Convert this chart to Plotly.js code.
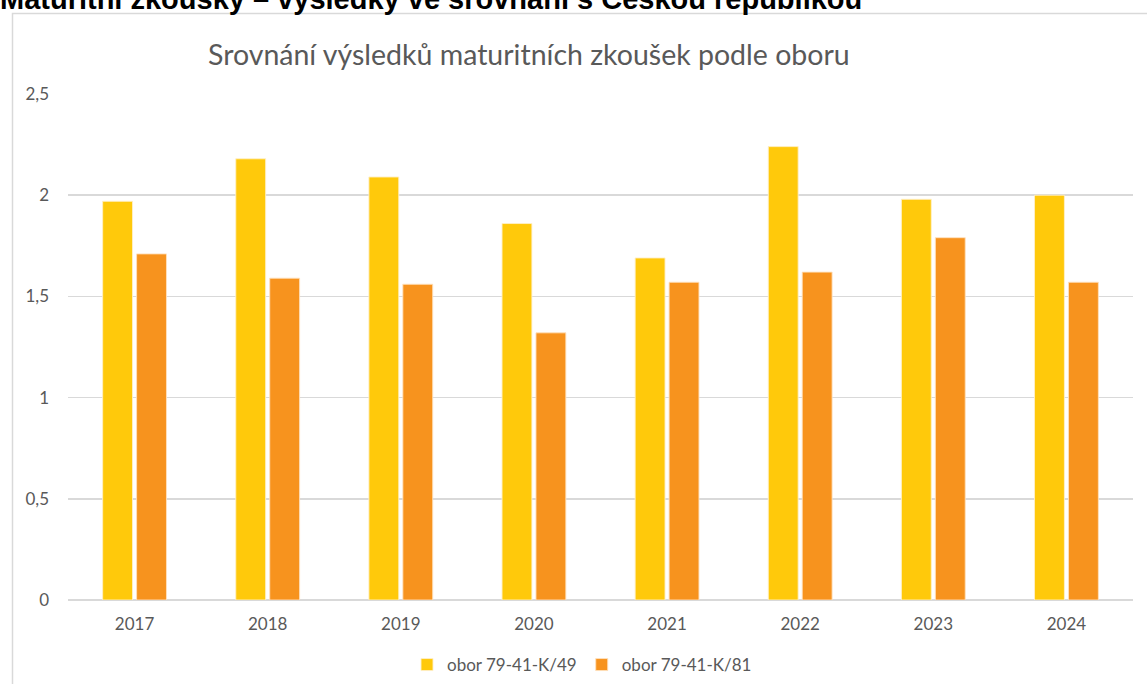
<!DOCTYPE html>
<html>
<head>
<meta charset="utf-8">
<script src="https://cdn.plot.ly/plotly-3.0.1.min.js"></script>
<style>html,body{margin:0;padding:0;background:#fff;overflow:hidden}</style>
</head>
<body>
<div id="chart" style="width:1147px;height:684px"></div>
<script>
// ---- data ----
const years = ['2017','2018','2019','2020','2021','2022','2023','2024'];
const obor49 = [1.97, 2.18, 2.09, 1.86, 1.69, 2.24, 1.98, 2.00];
const obor81 = [1.71, 1.59, 1.56, 1.32, 1.57, 1.62, 1.79, 1.57];
const seriesNames = ['obor 79-41-K/49', 'obor 79-41-K/81'];
const chartTitle = 'Srovnání výsledků maturitních zkoušek podle oboru';
const pageHeading = 'Maturitní zkoušky – výsledky ve srovnání s Českou republikou';

// ---- layout geometry (pixels) ----
const W = 1147, H = 684;
const M = {l: 68, r: 14, t: 94, b: 84, autoexpand: false};
const PW = W - M.l - M.r, PH = H - M.t - M.b;
const px = x => (x - M.l) / PW;
const py = y => (H - M.b - y) / PH;

const FONT = 'Lato, Calibri, "Open Sans", sans-serif';
const GRAY = '#595959';

const traces = [
  {type: 'bar', x: years, y: obor49, name: seriesNames[0],
   marker: {color: '#FFC90B', line: {color: 'rgba(255,240,200,0.9)', width: 1}}},
  {type: 'bar', x: years, y: obor81, name: seriesNames[1],
   marker: {color: '#F7931E', line: {color: 'rgba(255,225,190,0.9)', width: 1}}}
];

const layout = {
  width: W, height: H,
  margin: M,
  separators: ',.',
  paper_bgcolor: '#ffffff',
  plot_bgcolor: '#ffffff',
  font: {family: FONT, color: GRAY, size: 16},
  barmode: 'group',
  bargap: 0.49,
  bargroupgap: 0.12,
  showlegend: true,
  legend: {
    orientation: 'h', xref: 'container', yref: 'container',
    x: 582 / W, xanchor: 'center', y: 1 - 665 / H, yanchor: 'middle',
    font: {family: FONT, size: 17, color: GRAY}, itemwidth: 30, traceorder: 'normal'
  },
  xaxis: {
    type: 'category', showgrid: false, zeroline: false, showline: false,
    ticks: '', ticklabelstandoff: 12,
    tickfont: {family: FONT, size: 17, color: GRAY}
  },
  yaxis: {
    range: [0, 2.5], dtick: 0.5, tick0: 0,
    showgrid: true, gridcolor: '#d9d9d9', gridwidth: 1.5,
    zeroline: true, zerolinecolor: '#d9d9d9', zerolinewidth: 1.5,
    showline: false, ticks: '', ticklabelstandoff: 18,
    tickfont: {family: FONT, size: 17, color: GRAY}
  },
  shapes: [
    {type: 'rect', xref: 'paper', yref: 'paper',
     x0: px(12.5), x1: px(W + 20), y0: py(H + 20), y1: py(13.5),
     line: {color: '#d9d9d9', width: 1.5}, fillcolor: 'rgba(0,0,0,0)', layer: 'below'}
  ],
  annotations: [
    {text: chartTitle, xref: 'paper', yref: 'paper', x: px(529), y: py(54),
     xanchor: 'center', yanchor: 'middle', showarrow: false,
     font: {family: FONT, size: 28.5, color: GRAY}},
    {text: '<b>' + pageHeading + '</b>', xref: 'paper', yref: 'paper', x: px(-2), y: py(17),
     xanchor: 'left', yanchor: 'bottom', showarrow: false,
     font: {family: 'Liberation Sans, Arial, sans-serif', size: 29, color: '#000000'}}
  ]
};

Plotly.newPlot('chart', traces, layout, {displayModeBar: false, staticPlot: true});
</script>
</body>
</html>
